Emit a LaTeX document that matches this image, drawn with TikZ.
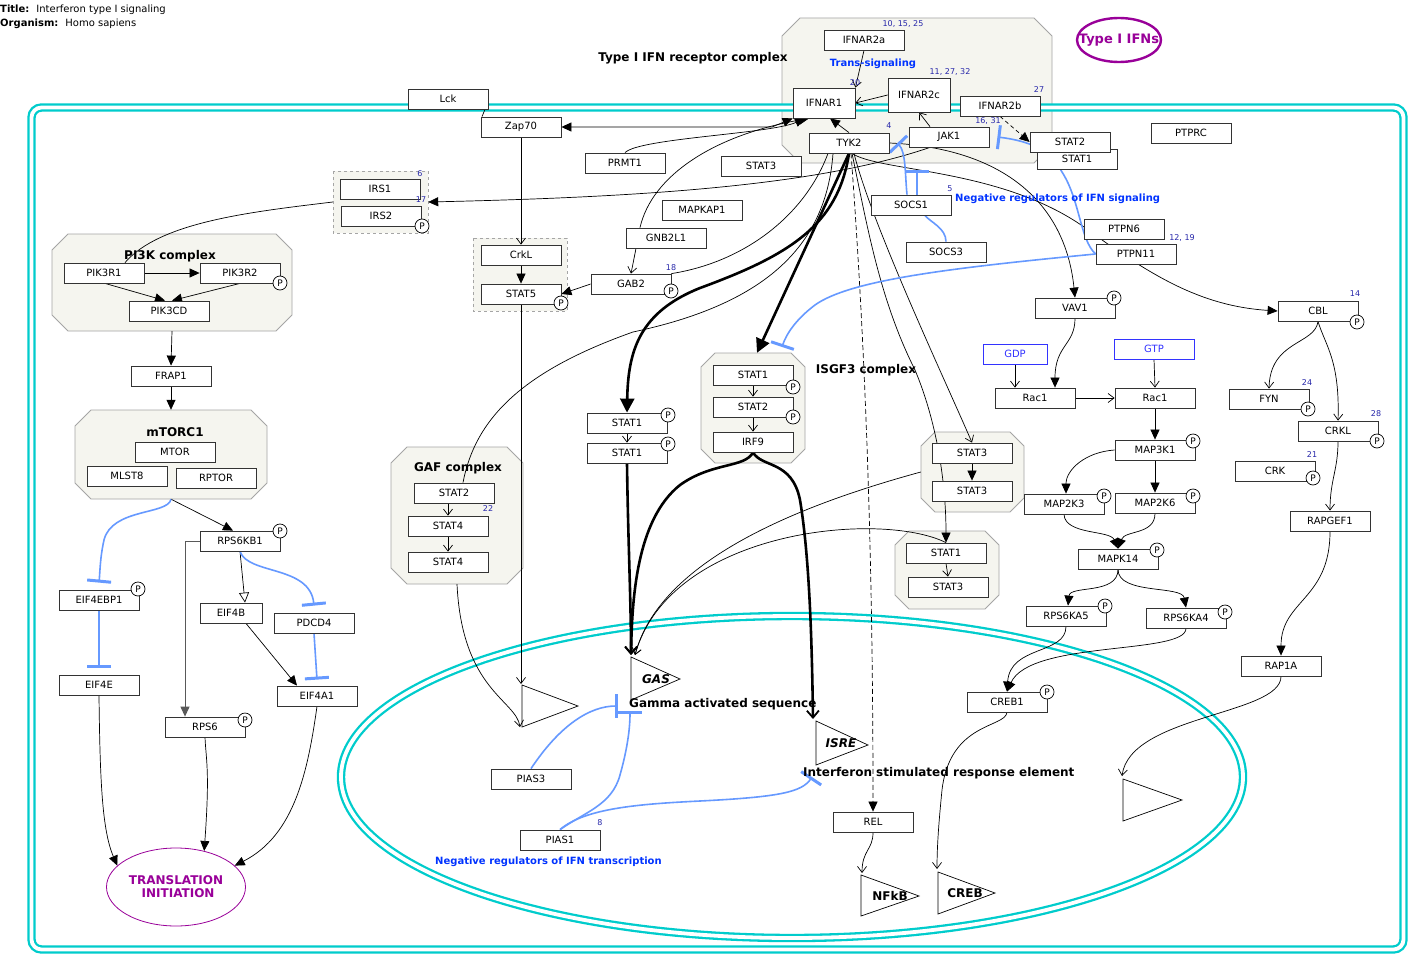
\documentclass[tikz,border=0pt]{standalone}
\usepackage{fontspec}
\setmainfont{DejaVu Sans}
\usetikzlibrary{arrows.meta,shapes.geometric,calc,fit}
\definecolor{cyanm}{RGB}{0,204,204}
\definecolor{cfill}{RGB}{245,245,239}
\definecolor{cborder}{RGB}{165,165,165}
\definecolor{inhblue}{RGB}{102,153,255}
\definecolor{lblue}{RGB}{0,51,255}
\definecolor{numblue}{RGB}{40,40,170}
\definecolor{purp}{RGB}{153,0,153}
\definecolor{gdpblue}{RGB}{51,51,255}
\pgfdeclarelayer{bglayer}
\pgfdeclarelayer{edgelayer}
\pgfsetlayers{bglayer,edgelayer,main}
\tikzset{
 gene/.style={draw=black!80, fill=white, line width=0.8pt, minimum width=80pt, minimum height=20pt, inner sep=0pt, font=\fontsize{10}{12}\selectfont},
 pcirc/.style={circle, draw=black, fill=white, line width=0.7pt, minimum size=14pt, inner sep=0pt, font=\fontsize{9}{9}\selectfont},
 num/.style={text=numblue, font=\fontsize{8}{8}\selectfont, inner sep=0pt},
 clabel/.style={font=\bfseries\fontsize{12}{12}\selectfont, inner sep=0pt},
 blabel/.style={text=lblue, font=\bfseries\fontsize{10}{10}\selectfont, inner sep=0pt},
 cplx/.style={fill=cfill, draw=cborder, line width=0.8pt},
 edge/.style={draw=black, line width=0.7pt},
 arr/.style={-{Triangle[length=10pt,width=9pt]}},
 varr/.style={-{Straight Barb[length=6pt,width=9pt,line width=0.7pt]}},
 thk/.style={draw=black, line width=2.6pt},
 tarr/.style={-{Triangle[length=14pt,width=14pt]}},
 tvarr/.style={-{Straight Barb[length=7pt,width=12pt,line width=1.8pt]}},
 inh/.style={draw=inhblue, line width=1.6pt, -{Bar[width=24pt,line width=3pt]}},
 memb/.style={draw=cyanm, line width=2.3pt, double=white, double distance=3.8pt},
 tri/.style={draw=black, line width=0.7pt},
}
\newcommand\gnode[5][]{\node[gene,#1] (#2) at (#3,#4) {#5};}
\newcommand\pcir[3]{\node[pcirc] (#1) at (#2,#3) {P};}
\newcommand\numlab[4]{\node[num] (#1) at (#2,#3) {#4};}
\newcommand\mkcplx[6]{%
  \begin{pgfonlayer}{bglayer}
  \filldraw[cplx] ({#2+#6},#3) -- ({#4-#6},#3) -- (#4,{#3+#6}) -- (#4,{#5-#6}) -- ({#4-#6},#5) -- ({#2+#6},#5) -- (#2,{#5-#6}) -- (#2,{#3+#6}) -- cycle;
  \end{pgfonlayer}
  \node[fit={(#2,#3) (#4,#5)}, inner sep=0pt] (#1) {};}
\begin{document}
\begin{tikzpicture}[x=1pt,y=-1pt]
\useasboundingbox (0,0) rectangle (1424,971);
\begin{pgfonlayer}{bglayer}
\fill[white] (0,0) rectangle (1424,971);
\end{pgfonlayer}
% complexes
\mkcplx{RC}{782}{18}{1052}{163}{18}
\mkcplx{PI3K}{52}{234}{292}{331}{16}
\mkcplx{MTORC}{75}{410}{267}{499}{16}
\mkcplx{GAF}{391}{447}{523}{584}{16}
\mkcplx{ISGF}{701}{353}{805}{463}{14}
\mkcplx{STTHREE}{921}{432}{1024}{512}{14}
\mkcplx{STONE}{895}{531}{999}{609}{14}
\begin{pgfonlayer}{bglayer}
\filldraw[fill=cfill, draw=cborder, line width=0.8pt, dashed] (333,171) rectangle (428,233);
\filldraw[fill=cfill, draw=cborder, line width=0.8pt, dashed] (473,238) rectangle (567,311);
\draw[memb, rounded corners=10pt] (31.5,107.5) rectangle (1403.5,949.5);
\draw[memb] (792,777) ellipse [x radius=451pt, y radius=161pt];
\end{pgfonlayer}
\node[fit={(333,171) (428,233)}, inner sep=0pt] (IRSG) {};
\node[fit={(473,238) (567,311)}, inner sep=0pt] (CRKG) {};

% title
\node[anchor=west, inner sep=0pt, font=\fontsize{10}{10}\selectfont] (ttl) at (0,10) {\textbf{Title:}\hspace{7pt}Interferon type I signaling};
\node[anchor=west, inner sep=0pt, font=\fontsize{10}{10}\selectfont] (org) at (0,24) {\textbf{Organism:}\hspace{7pt}Homo sapiens};

% labels
\node[clabel] (lRC) at (693,58) {Type I IFN receptor complex};
\node[clabel] (lPI3K) at (170,256) {PI3K complex};
\node[clabel] (lMT) at (175,432) {mTORC1};
\node[clabel] (lGAF) at (458,468) {GAF complex};
\node[clabel] (lISG) at (866,370) {ISGF3 complex};
\node[blabel] (lTS) at (873,64) {Trans-signaling};
\node[blabel,anchor=west] (lNR1) at (955,199) {Negative regulators of IFN signaling};
\node[blabel,anchor=west] (lNR2) at (435,862) {Negative regulators of IFN transcription};
\node[clabel,anchor=west] (lGASs) at (629,704) {Gamma activated sequence};
\node[clabel,anchor=west] (lISREs) at (803,773) {Interferon stimulated response element};

% purple ellipses
\node[ellipse, draw=purp, line width=2.4pt, minimum width=84pt, minimum height=44pt, inner sep=0pt] (IFNs) at (1119,40) {};
\node[inner sep=0pt, text=purp, font=\bfseries\fontsize{13}{13}\selectfont] (IFNsT) at (IFNs.center) {Type I IFNs};
\node[ellipse, draw=purp, line width=0.8pt, minimum width=139pt, minimum height=78pt, inner sep=0pt, text=purp, align=center, font=\bfseries\fontsize{12}{13}\selectfont] (TRANS) at (176,887) {TRANSLATION\\ \ INITIATION};

% genes
\gnode{Lck}{448}{99}{Lck}
\gnode{Zap70}{521}{127}{Zap70}
\gnode{PRMT1}{625}{163}{PRMT1}
\gnode{STATm}{761}{166}{STAT3}
\gnode{MAPKAP1}{702}{210}{MAPKAP1}
\gnode{GNB2L1}{666}{238}{GNB2L1}
\gnode{GAB2}{631}{284}{GAB2}
\gnode{CrkL}{521}{255}{CrkL}
\gnode{STAT5}{521}{294}{STAT5}
\gnode{IRS1}{380}{189}{IRS1}
\gnode{IRS2}{381}{216}{IRS2}
\gnode{PIK3R1}{104}{273}{PIK3R1}
\gnode{PIK3R2}{240}{273}{PIK3R2}
\gnode{PIK3CD}{169}{311}{PIK3CD}
\gnode{FRAP1}{171}{376}{FRAP1}
\gnode{MTOR}{175}{452}{MTOR}
\gnode{MLST8}{127}{476}{MLST8}
\gnode{RPTOR}{216}{478}{RPTOR}
\gnode{RPS6KB1}{240}{541}{RPS6KB1}
\gnode{EIF4EBP1}{99}{600}{EIF4EBP1}
\gnode[minimum width=62pt]{EIF4B}{231}{613}{EIF4B}
\gnode{PDCD4}{314}{623}{PDCD4}
\gnode{EIF4E}{99}{685}{EIF4E}
\gnode{RPS6}{205}{727}{RPS6}
\gnode{EIF4A1}{317}{696}{EIF4A1}
\gnode{GSTAT2}{454}{493}{STAT2}
\gnode{GSTAT4a}{448}{526}{STAT4}
\gnode{GSTAT4b}{448}{562}{STAT4}
\gnode{STAT1a}{627}{423}{STAT1}
\gnode{STAT1b}{627}{453}{STAT1}
\gnode{ISTAT1}{753}{375}{STAT1}
\gnode{ISTAT2}{753}{407}{STAT2}
\gnode{IRF9}{753}{442}{IRF9}
\gnode{IFNAR2a}{864}{40}{IFNAR2a}
\gnode[minimum width=62pt, minimum height=30pt]{IFNAR1}{824}{103}{IFNAR1}
\gnode[minimum width=62pt, minimum height=34pt]{IFNAR2c}{919}{95}{IFNAR2c}
\gnode{IFNAR2b}{1000}{106}{IFNAR2b}
\gnode{TYK2}{849}{143}{TYK2}
\gnode{JAK1}{949}{137}{JAK1}
\gnode{STAT1tr}{1077}{159}{STAT1}
\gnode{STAT2tr}{1070}{142}{STAT2}
\gnode{PTPRC}{1191}{133}{PTPRC}
\gnode{SOCS1}{911}{205}{SOCS1}
\gnode{SOCS3}{946}{252}{SOCS3}
\gnode{PTPN6}{1124}{229}{PTPN6}
\gnode{PTPN11}{1136}{254}{PTPN11}
\gnode{VAV1}{1075}{308}{VAV1}
\gnode{CBL}{1318}{311}{CBL}
\gnode[minimum width=64pt, draw=gdpblue, text=gdpblue]{GDP}{1015}{354}{GDP}
\gnode[draw=gdpblue, text=gdpblue]{GTP}{1154}{349}{GTP}
\gnode{Rac1a}{1035}{398}{Rac1}
\gnode{Rac1b}{1155}{398}{Rac1}
\gnode{MAP3K1}{1155}{450}{MAP3K1}
\gnode{MAP2K3}{1064}{504}{MAP2K3}
\gnode{MAP2K6}{1155}{503}{MAP2K6}
\gnode{MAPK14}{1118}{559}{MAPK14}
\gnode{RPS6KA5}{1066}{616}{RPS6KA5}
\gnode{RPS6KA4}{1186}{618}{RPS6KA4}
\gnode{CREB1}{1007}{702}{CREB1}
\gnode{FYN}{1269}{399}{FYN}
\gnode{CRKL}{1338}{431}{CRKL}
\gnode{CRK}{1275}{471}{CRK}
\gnode{RAPGEF1}{1330}{521}{RAPGEF1}
\gnode{RAP1A}{1281}{666}{RAP1A}
\gnode{STAT3a}{972}{453}{STAT3}
\gnode{STAT3b}{972}{491}{STAT3}
\gnode{STAT1l}{946}{553}{STAT1}
\gnode{STAT3l}{948}{587}{STAT3}
\gnode{PIAS3}{531}{779}{PIAS3}
\gnode{PIAS1}{560}{840}{PIAS1}
\gnode{REL}{873}{822}{REL}

% phospho sites
\pcir{pIRS2}{422}{226}
\pcir{pPIK3R2}{280}{283}
\pcir{pGAB2}{671}{291}
\pcir{pSTAT5}{561}{303}
\pcir{pSTAT1a}{668}{415}
\pcir{pSTAT1b}{668}{444}
\pcir{pISTAT1}{793}{387}
\pcir{pISTAT2}{793}{417}
\pcir{pVAV1}{1114}{298}
\pcir{pCBL}{1357}{322}
\pcir{pFYN}{1308}{409}
\pcir{pCRKL}{1377}{441}
\pcir{pCRK}{1313}{478}
\pcir{pMAP3K1}{1193}{441}
\pcir{pMAP2K3}{1104}{496}
\pcir{pMAP2K6}{1193}{496}
\pcir{pMAPK14}{1157}{550}
\pcir{pRPS6KA5}{1105}{606}
\pcir{pRPS6KA4}{1225}{612}
\pcir{pCREB1}{1047}{692}
\pcir{pRPS6KB1}{280}{531}
\pcir{pEIF4EBP1}{138}{589}
\pcir{pRPS6}{245}{720}

% numbers
\numlab{n1}{420}{174}{6}
\numlab{n2}{421}{200}{17}
\numlab{n3}{903}{24}{10, 15, 25}
\numlab{n4}{855}{83}{20}
\numlab{n5}{950}{72}{11, 27, 32}
\numlab{n6}{1039}{90}{27}
\numlab{n7}{889}{126}{4}
\numlab{n8}{988}{121}{16, 31}
\numlab{n9}{950}{189}{5}
\numlab{n10}{1182}{238}{12, 19}
\numlab{n11}{671}{268}{18}
\numlab{n12}{1355}{294}{14}
\numlab{n13}{1307}{383}{24}
\numlab{n14}{1376}{414}{28}
\numlab{n15}{1312}{455}{21}
\numlab{n16}{488}{509}{22}
\numlab{n17}{600}{823}{8}

% triangles (gene regulatory regions)
\draw[tri] (522,685) -- (522,727) -- (578,706) -- cycle;
\draw[tri] (631,657) -- (631,700) -- (680,679) -- cycle;
\draw[tri] (816,721) -- (816,765) -- (868,745) -- cycle;
\draw[tri] (861,875) -- (861,916) -- (919,896) -- cycle;
\draw[tri] (938,872) -- (938,914) -- (995,893) -- cycle;
\draw[tri] (1123,779) -- (1123,821) -- (1182,800) -- cycle;
\node[inner sep=0pt, font=\bfseries\itshape\fontsize{12}{12}\selectfont] (tGAS) at (656,679) {GAS};
\node[inner sep=0pt, font=\bfseries\itshape\fontsize{12}{12}\selectfont] (tISRE) at (841,743) {ISRE};
\node[inner sep=0pt, font=\bfseries\fontsize{12}{12}\selectfont] (tNFkB) at (890,896) {NFkB};
\node[inner sep=0pt, font=\bfseries\fontsize{12}{12}\selectfont] (tCREB) at (965,893) {CREB};
\coordinate (GAStip) at (631,655);
\coordinate (GAStipb) at (635,655);
\coordinate (ISREtip) at (813,719);
\coordinate (T1top) at (521,684);
\coordinate (T1bot) at (520,727);
\coordinate (NFkBtip) at (862,873);
\coordinate (CREBtip) at (937,869);
\coordinate (T2tip) at (1122,776);
\coordinate (GASinhA) at (618,706);
\coordinate (GASinhB) at (630,711);
\coordinate (ISREinh) at (812,777);
\coordinate (ISGFinh) at (782,347);

\begin{pgfonlayer}{edgelayer}
% receptor complex
\draw[edge,varr] (IFNAR2a.south) -- (IFNAR1.north east);
\draw[edge,varr] (IFNAR2c.west) -- (IFNAR1.east);
\draw[edge,varr] ([xshift=-19pt]JAK1.north) -- (IFNAR2c.south);
\draw[edge,arr] (TYK2.north) -- ([xshift=6pt]IFNAR1.south);
\draw[edge,{Triangle[length=10pt,width=9pt]}-{Triangle[length=10pt,width=9pt]}] (Zap70.east) -- (772,127) -- (IFNAR1.south west);
\draw[edge] ([xshift=37pt]Lck.south) -- ([xshift=-39pt]Zap70.north);
\draw[edge,arr] (PRMT1.north) .. controls (640,138) and (770,134) .. ([xshift=-19pt]IFNAR1.south);
\draw[edge,arr] ([xshift=-26pt]GNB2L1.north) .. controls (652,175) and (715,135) .. ([xshift=-15pt]IFNAR1.south);
\draw[edge,varr] (Zap70.south) -- (CrkL.north);
\draw[edge,arr] (CrkL.south) -- (STAT5.north);
\draw[edge,varr] ([xshift=-30pt]GNB2L1.south) -- (GAB2.north);
\draw[edge,arr] (GAB2.west) -- (STAT5.east);
\draw[edge] ([xshift=-21pt]TYK2.south) .. controls (805,215) and (745,262) .. (GAB2.north east);
\draw[edge] ([xshift=-16pt]TYK2.south) .. controls (826,250) and (760,305) .. (633,332) .. controls (520,372) and (475,420) .. ([xshift=9pt]GSTAT2.north);
\draw[edge,arr] ([xshift=-19pt]JAK1.south) .. controls (820,185) and (650,197) .. (IRSG.east);
\draw[edge] (IRSG.west) .. controls (250,212) and (160,222) .. ([xshift=21pt]PIK3R1.north);
\draw[edge,arr] (TYK2.east) .. controls (1000,148) and (1065,200) .. (VAV1.north);
\draw[edge,arr] ([xshift=3pt]TYK2.south) .. controls (880,172) and (1000,168) .. (1084,227) .. controls (1150,275) and (1200,306) .. (CBL.west);
\draw[edge,arr] ([xshift=3pt]TYK2.south) .. controls (868,230) and (880,300) .. (915,370) .. controls (936,420) and (946,480) .. (STAT1l.north);
\draw[edge,varr] ([xshift=5pt]TYK2.south) .. controls (872,225) and (945,380) .. (STAT3a.north);
\draw[edge,arr,dash pattern=on 5pt off 3pt] ([xshift=2pt]TYK2.south) .. controls (868,380) and (873,600) .. (REL.north);
\draw[edge,arr,dash pattern=on 4pt off 3pt] (IFNAR2b.south) -- (STAT2tr.west);
% thick
\draw[thk,tarr] (TYK2.south) .. controls (838,225) and (790,255) .. (700,288) .. controls (640,312) and (628,350) .. (STAT1a.north);
\draw[thk,tarr] (TYK2.south) -- ([xshift=4pt]ISGF.north);
\draw[thk,tvarr] (STAT1b.south) .. controls (628,540) and (631,600) .. (GAStip);
\draw[thk,tvarr] (IRF9.south) .. controls (745,468) and (712,462) .. (680,485) .. controls (636,520) and (632,600) .. (GAStip);
\draw[thk,tvarr] (IRF9.south) .. controls (762,468) and (792,460) .. (800,500) .. controls (810,560) and (812,650) .. (ISREtip);
\draw[edge,varr] (STTHREE.west) .. controls (800,505) and (660,560) .. (GAStipb);
\draw[edge,varr] (STAT1l.north) .. controls (880,510) and (670,530) .. (GAStipb);
% inhibitions
\draw[inh] ([xshift=-4pt]SOCS1.north) .. controls (905,175) and (906,152) .. ([xshift=8pt]TYK2.east);
\draw[inh] ([xshift=6pt]SOCS1.north) -- ++(0,-25);
\draw[draw=inhblue, line width=1.6pt] (SOCS3.north) .. controls (946,228) and (930,222) .. ([xshift=14pt]SOCS1.south);
\draw[inh] (PTPN11.west) .. controls (1080,240) and (1080,200) .. (1062,172) .. controls (1050,150) and (1030,141) .. ([xshift=8pt]JAK1.east);
\draw[inh] (PTPN11.west) .. controls (950,268) and (850,280) .. (815,305) .. controls (795,320) and (786,335) .. (ISGFinh);
% PI3K / mTOR
\draw[edge,arr] (PIK3R1.east) -- (PIK3R2.west);
\draw[edge,arr] ([xshift=1pt]PIK3R1.south) -- ([xshift=-4pt]PIK3CD.north);
\draw[edge,arr] (PIK3R2.south) -- ([xshift=3pt]PIK3CD.north);
\draw[edge,arr] (PI3K.south) -- (FRAP1.north);
\draw[edge,arr] (FRAP1.south) -- (MTORC.north);
\draw[edge,arr] (MTORC.south) -- ([xshift=-7pt]RPS6KB1.north);
\draw[inh] (MTORC.south) .. controls (168,515) and (112,508) .. (104,540) .. controls (100,558) and (100,572) .. ($(EIF4EBP1.north)+(0,-7)$);
\draw[edge,-{Triangle[open,length=10pt,width=10pt]}] (RPS6KB1.south) -- ([xshift=14pt]EIF4B.north);
\draw[inh] (RPS6KB1.south) .. controls (248,575) and (310,565) .. ($(PDCD4.north)+(0,-7)$);
\draw[draw=black!65, line width=1pt, arr] (RPS6KB1.west) -| ([xshift=-20pt]RPS6.north);
\draw[edge,arr] ([xshift=15pt]EIF4B.south) -- ([xshift=-20pt]EIF4A1.north);
\draw[inh] (PDCD4.south) -- ($(EIF4A1.north)+(0,-6)$);
\draw[inh] (EIF4EBP1.south) -- ($(EIF4E.north)+(0,-7)$);
\draw[edge,arr] (EIF4E.south) .. controls (100,780) and (102,830) .. (TRANS.160);
\draw[edge,arr] (RPS6.south) .. controls (206,760) and (210,770) .. (TRANS.52);
\draw[edge,arr] (EIF4A1.south) .. controls (308,770) and (295,835) .. (TRANS.20);
% complexes internal
\draw[edge,varr] ([xshift=-6pt]GSTAT2.south) -- (GSTAT4a.north);
\draw[edge,varr] (GSTAT4a.south) -- (GSTAT4b.north);
\draw[edge,varr] (ISTAT1.south) -- (ISTAT2.north);
\draw[edge,varr] (ISTAT2.south) -- (IRF9.north);
\draw[edge,varr] (STAT1a.south) -- (STAT1b.north);
\draw[edge,arr] (STAT3a.south) -- (STAT3b.north);
\draw[edge,varr] (STAT1l.south) -- (STAT3l.north);
\draw[edge,varr] (STAT5.south) -- (T1top);
\draw[edge,varr] (GAF.south) .. controls (462,690) and (516,700) .. (T1bot);
% MAPK cascade
\draw[edge,arr] (VAV1.south) .. controls (1075,345) and (1055,345) .. ([xshift=20pt]Rac1a.north);
\draw[edge,varr] (GDP.south) -- ([xshift=-20pt]Rac1a.north);
\draw[edge,varr] (GTP.south) -- (Rac1b.north);
\draw[edge,varr] (Rac1a.east) -- (Rac1b.west);
\draw[edge,arr] (Rac1b.south) -- (MAP3K1.north);
\draw[edge,arr] (MAP3K1.west) .. controls (1085,452) and (1066,470) .. ([xshift=2pt]MAP2K3.north);
\draw[edge,arr] (MAP3K1.south) -- (MAP2K6.north);
\draw[edge,arr] (MAP2K3.south) .. controls (1065,535) and (1110,530) .. (MAPK14.north);
\draw[edge,arr] (MAP2K6.south) .. controls (1155,535) and (1125,530) .. (MAPK14.north);
\draw[edge,arr] (MAPK14.south) .. controls (1118,595) and (1070,585) .. ([xshift=2pt]RPS6KA5.north);
\draw[edge,arr] (MAPK14.south) .. controls (1118,595) and (1182,585) .. (RPS6KA4.north);
\draw[edge,arr] (RPS6KA5.south) .. controls (1066,655) and (1010,645) .. (CREB1.north);
\draw[edge,arr] (RPS6KA4.south) .. controls (1186,655) and (1030,640) .. (CREB1.north);
\draw[edge,varr] (CREB1.south) .. controls (1005,728) and (950,722) .. (942,790) .. controls (939,820) and (937,845) .. (CREBtip);
\draw[edge,varr] (CBL.south) .. controls (1315,345) and (1270,340) .. (FYN.north);
\draw[edge,varr] (CBL.south) .. controls (1325,345) and (1340,360) .. (CRKL.north);
\draw[edge,varr] (CRKL.south) .. controls (1338,470) and (1330,480) .. (RAPGEF1.north);
\draw[edge,arr] (RAPGEF1.south) .. controls (1330,600) and (1281,600) .. (RAP1A.north);
\draw[edge,varr] (RAP1A.south) .. controls (1281,715) and (1130,715) .. (T2tip);
\draw[edge,varr] (REL.south) .. controls (873,850) and (862,850) .. (NFkBtip);
% nuclear negative regulators
\draw[inh] (PIAS3.north) .. controls (560,725) and (590,706) .. (GASinhA);
\draw[inh] (PIAS1.north) .. controls (585,812) and (612,805) .. (620,775) .. controls (627,750) and (630,730) .. (GASinhB);
\draw[inh] (PIAS1.north) .. controls (585,808) and (640,804) .. (700,801) .. controls (780,797) and (802,792) .. (ISREinh);
\end{pgfonlayer}
\end{tikzpicture}
\end{document}
